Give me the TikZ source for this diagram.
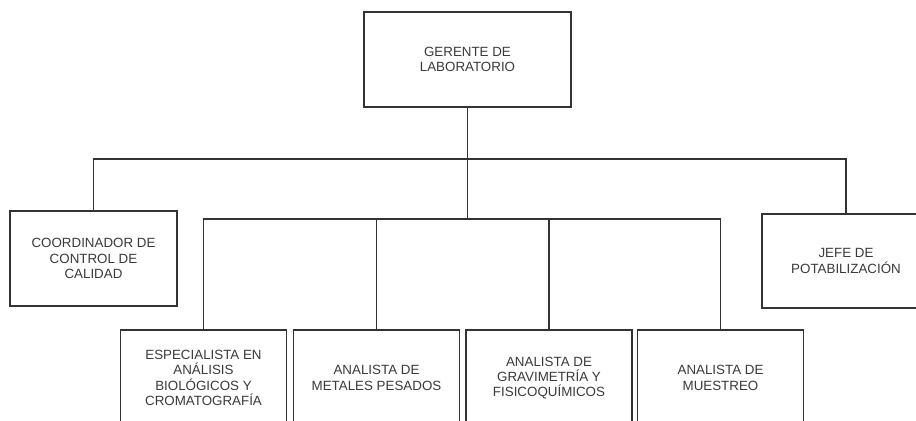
\documentclass[tikz,border=0pt]{standalone}
\usepackage{fontspec}
\setmainfont{Liberation Sans}
\usepackage{tikz}
\usetikzlibrary{positioning}
\usepackage{xcolor}
\definecolor{LineDark}{HTML}{333333}
\definecolor{TextGray}{HTML}{3A3A3A}

\begin{document}
\begin{tikzpicture}[
  x=0.02cm, y=-0.02cm,
  font=\fontsize{7.6}{8.7}\selectfont,
  post/.style={draw=LineDark, line width=0.8pt, fill=white, align=center, inner sep=2pt, text=TextGray},
  boss/.style={post, minimum width=4.14cm, minimum height=1.9cm},
  side/.style={post, minimum width=3.34cm, minimum height=1.9cm},
  staff/.style={post, minimum width=3.32cm, minimum height=1.92cm},
  link/.style={LineDark, line width=0.8pt}
]
\useasboundingbox (0,0) rectangle (916,420);

% Puestos
\node[boss] (ger) at (467.5,59.5) {GERENTE DE\\LABORATORIO};
\node[side] (coord) at (93.5,258.5) {COORDINADOR DE\\CONTROL DE\\CALIDAD};
\node[side, minimum width=3.36cm, minimum height=1.88cm] (jefe) at (846,261) {JEFE DE\\POTABILIZACIÓN};

% Analistas
\node[staff] (esp) at (203.5,378) {ESPECIALISTA EN\\ANÁLISIS\\BIOLÓGICOS Y\\CROMATOGRAFÍA};
\node[staff] (met) at (376.5,378) {ANALISTA DE\\METALES PESADOS};
\node[staff] (grav) at (549,378) {ANALISTA DE\\GRAVIMETRÍA Y\\FISICOQUÍMICOS};
\node[staff] (mue) at (720.5,378) {ANALISTA DE\\MUESTREO};

% Lineas de mando
\coordinate (bus) at (467.5,159);
\coordinate (mid) at (467.5,219);
\draw[link] (ger.south) -- (mid);
\draw[link] (coord.north) |- (bus) -| (jefe.north);
\draw[link] (esp.north) |- (mid) -| (mue.north);
\draw[link] (met.north) -- (met.north |- mid);
\draw[link] (grav.north) -- (grav.north |- mid);

\end{tikzpicture}
\end{document}
